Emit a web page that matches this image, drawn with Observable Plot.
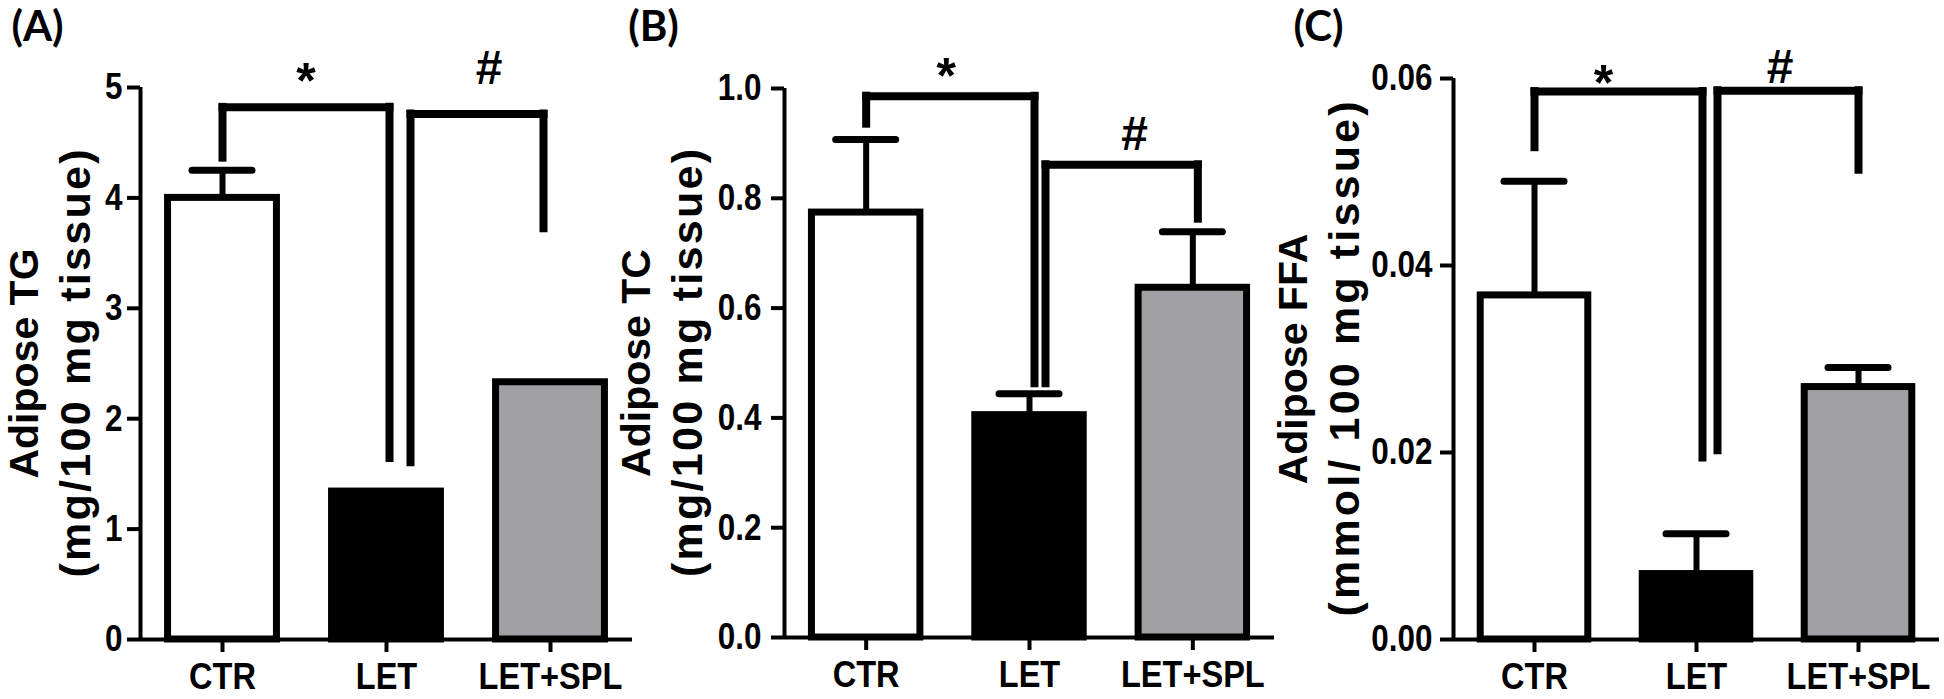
<!DOCTYPE html>
<html>
<head>
<meta charset="utf-8">
<script src="https://cdn.jsdelivr.net/npm/d3@7"></script>
<script src="https://cdn.jsdelivr.net/npm/@observablehq/plot@0.6"></script>
<style>
html, body { margin: 0; padding: 0; background: #fff; }
#chart { position: relative; width: 1944px; height: 699px; overflow: hidden; background: #fff; }
#chart > svg { position: absolute; top: 0; }
</style>
</head>
<body>
<div id="chart"></div>
<script>
// ---------- data ----------
const groups = ["CTR", "LET", "LET+SPL"];
const barColors = ["#ffffff", "#000000", "#a0a0a4"];

const tgMean = [4.0, 1.34, 2.33];
const tgSem = [0.25, 0, 0];
const tcMean = [0.774, 0.405, 0.637];
const tcSem = [0.133, 0.039, 0.102];
const ffaMean = [0.0368, 0.0070, 0.0270];
const ffaSem = [0.0122, 0.0043, 0.0021];

const tgTicks = [0, 1, 2, 3, 4, 5];
const tcTicks = [0, 0.2, 0.4, 0.6, 0.8, 1.0];
const ffaTicks = [0, 0.02, 0.04, 0.06];

const tgBrackets = [
  {from: "CTR", to: "LET", y: 4.82, yFrom: 4.36, yTo: 1.64, label: "*", labelY: 5.15},
  {from: "LET", to: "LET+SPL", y: 4.76, yFrom: 1.60, yTo: 3.72, label: "#", labelY: 5.17}
];
const tcBrackets = [
  {from: "CTR", to: "LET", y: 0.986, yFrom: 0.935, yTo: 0.462, label: "*", labelY: 1.042},
  {from: "LET", to: "LET+SPL", y: 0.861, yFrom: 0.462, yTo: 0.762, label: "#", labelY: 0.916}
];
const ffaBrackets = [
  {from: "CTR", to: "LET", y: 0.0586, yFrom: 0.0526, yTo: 0.0194, label: "*", labelY: 0.0606},
  {from: "LET", to: "LET+SPL", y: 0.0587, yFrom: 0.0202, yTo: 0.0502, label: "#", labelY: 0.0612}
];

const panels = [
  {tag: "(A)", title: ["Adipose TG", "(mg/100 mg tissue)"], mean: tgMean, sem: tgSem, ticks: tgTicks, fmt: d3.format("d"), brackets: tgBrackets},
  {tag: "(B)", title: ["Adipose TC", "(mg/100 mg tissue)"], mean: tcMean, sem: tcSem, ticks: tcTicks, fmt: d3.format(".1f"), brackets: tcBrackets},
  {tag: "(C)", title: ["Adipose FFA", "(mmol/ 100 mg tissue)"], mean: ffaMean, sem: ffaSem, ticks: ffaTicks, fmt: d3.format(".2f"), brackets: ffaBrackets}
];

// ---------- layout / style ----------
const layouts = [
  {left: 0, width: 650, ml: 140, mr: 18, mt: 87, mb: 60, tickPad: 5, titleX: [24, 76], title2Len: 428, tagX: 37,
   legOff: [[0, 3], [24, -7]], labelOff: [0, 12]},
  {left: 650, width: 650, ml: 134, mr: 26, mt: 88, mb: 62, tickPad: 10, titleX: [636, 688], title2Len: 428, tagX: 653,
   legOff: [[0, 5], [16, 5]], labelOff: [-4, 13]},
  {left: 1300, width: 644, ml: 153, mr: 5, mt: 78, mb: 60, tickPad: 8, titleX: [1293, 1345], title2Len: 515, tagX: 1318,
   legOff: [[0, 6], [21, 0]], labelOff: [-15, -8]}
];
const FONT = "'Liberation Sans', Arial, Helvetica, sans-serif";
const TAG_FONT = "Lato, 'Open Sans', sans-serif";
const H = 699;
const BAR_STROKE = 7, BRACKET_W = 8, AXIS_W = 4;
const xBand = {type: "band", domain: groups, paddingInner: 0.336, paddingOuter: 0.168, align: 0.5, round: false};

const root = document.getElementById("chart");

function squeeze(el, s) {
  const t = el.getAttribute("transform");
  if (t) el.setAttribute("transform", t + ` scale(${s},1)`);
  else {
    const x = +el.getAttribute("x") || 0, y = +el.getAttribute("y") || 0;
    el.setAttribute("transform", `translate(${x},${y}) scale(${s},1) translate(${-x},${-y})`);
  }
}

panels.forEach((p, k) => {
  const L = layouts[k];
  const rows = groups.map((g, i) => ({group: g, mean: p.mean[i], sem: p.sem[i]}));
  const errRows = rows.filter(d => d.sem > 0);
  const ymax = p.ticks[p.ticks.length - 1];

  const xs = Plot.scale({x: {...xBand, range: [L.ml, L.width - L.mr]}});
  const bw = xs.bandwidth;
  const center = g => xs.apply(g) + bw / 2;

  const marks = [];
  // y axis line
  marks.push(Plot.ruleX([groups[0]], {x: d => d, y1: 0, y2: ymax, dx: L.ml - center(groups[0]), strokeWidth: AXIS_W}));
  // bars
  marks.push(Plot.barY(rows, {x: "group", y: "mean", fill: "group", stroke: "black", strokeWidth: BAR_STROKE}));
  // error bars (SEM)
  marks.push(Plot.ruleX(errRows, {x: "group", y1: "mean", y2: d => d.mean + d.sem, strokeWidth: 6}));
  marks.push(Plot.tickY(errRows, {x: "group", y: d => d.mean + d.sem, strokeWidth: 7, inset: (bw - 60) / 2, strokeLinecap: "round"}));
  // x axis line
  marks.push(Plot.ruleY([0], {strokeWidth: AXIS_W}));
  // significance brackets
  p.brackets.forEach((b, j) => {
    const [o1, o2] = L.legOff[j];
    const common = {stroke: "black", strokeWidth: BRACKET_W, strokeLinecap: "square"};
    marks.push(Plot.ruleX([b], {x: "from", y1: "yFrom", y2: "y", dx: o1, ...common}));
    marks.push(Plot.ruleX([b], {x: "to", y1: "yTo", y2: "y", dx: o2, ...common}));
    marks.push(Plot.arrow([b], {x1: "from", x2: "to", y1: "y", y2: "y", insetStart: o1, insetEnd: -o2, headLength: 0, ...common}));
    const mid = (center(b.to) + o2 - center(b.from) + o1) / 2 + L.labelOff[j];
    const star = b.label === "*";
    const fs = star ? 50 : 48;
    marks.push(Plot.text([b], {x: "from", y: "labelY", text: "label", dx: mid, dy: star ? 0.23 * fs : 0,
      fontSize: fs, fontWeight: "bold", fontFamily: FONT, fill: "black"}));
  });
  // axes
  marks.push(Plot.axisY(p.ticks, {tickSize: 13, tickPadding: L.tickPad, strokeWidth: AXIS_W, tickFormat: p.fmt,
    fontSize: 37, fontWeight: "bold", fontFamily: FONT, fill: "black", label: null}));
  marks.push(Plot.axisX({tickSize: 13, tickPadding: 10, strokeWidth: AXIS_W,
    fontSize: 37, fontWeight: "bold", fontFamily: FONT, fill: "black", label: null}));
  // y title (two lines)
  p.title.forEach((line, j) => {
    marks.push(Plot.text([line], {text: d => d, frameAnchor: "left", rotate: -90, dx: L.titleX[j] - L.left - L.ml,
      textAnchor: "middle", lineAnchor: "middle", fontSize: j === 0 ? 41 : 43, fontWeight: "bold", fontFamily: FONT, fill: "black"}));
  });
  // panel tag
  marks.push(Plot.text([p.tag], {text: d => d, frameAnchor: "top-left", dx: L.tagX - L.left - L.ml, dy: 27 - L.mt,
    textAnchor: "middle", lineAnchor: "middle", fontSize: 42, fontWeight: "bold", fontFamily: TAG_FONT, fill: "black"}));

  const svg = Plot.plot({
    width: L.width, height: H,
    marginLeft: L.ml, marginRight: L.mr, marginTop: L.mt, marginBottom: L.mb,
    x: {...xBand, label: null},
    y: {domain: [0, ymax], label: null},
    color: {domain: groups, range: barColors},
    style: {fontFamily: FONT, background: "transparent", overflow: "visible", color: "black"},
    marks
  });
  svg.style.left = L.left + "px";
  root.appendChild(svg);

  // condensed look of the tick labels, as in the original figure
  svg.querySelectorAll('g[aria-label="y-axis tick label"] text').forEach(t => squeeze(t, 0.85));
  svg.querySelectorAll('g[aria-label="x-axis tick label"] text').forEach(t => squeeze(t, 0.88));
  // second title line is set wider in the original
  svg.querySelectorAll("text").forEach(t => {
    if (t.textContent === p.title[1]) {
      t.setAttribute("textLength", L.title2Len);
      t.setAttribute("lengthAdjust", "spacing");
    }
  });
});
</script>
</body>
</html>
